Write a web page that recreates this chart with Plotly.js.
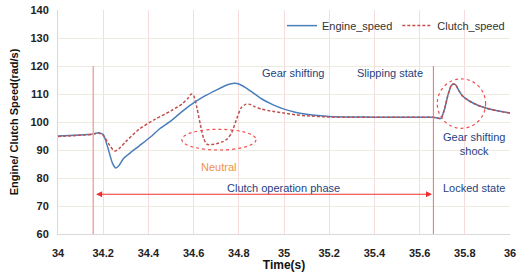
<!DOCTYPE html>
<html><head><meta charset="utf-8">
<script src="https://cdn.plot.ly/plotly-3.0.1.min.js"></script>
<style>html,body{margin:0;padding:0;background:#fff}#c{width:518px;height:272px}</style>
</head><body><div id="c"></div>
<script>
const engineTime = [34.00,34.05,34.10,34.15,34.18,34.20,34.22,34.24,34.255,34.27,34.29,34.32,34.36,34.415,34.45,34.50,34.55,34.60,34.65,34.70,34.75,34.78,34.80,34.83,34.86,34.90,34.95,35.00,35.05,35.10,35.15,35.20,35.30,35.40,35.50,35.60,35.66,35.68,35.695,35.71,35.725,35.74,35.75,35.76,35.775,35.79,35.82,35.86,35.90,35.95,36.00];
const engineSpeed = [95.0,95.2,95.4,95.6,96.2,95.5,91.0,85.5,83.6,84.5,87.0,89.0,91.5,95.0,97.6,100.4,103.8,106.8,109.3,111.4,113.3,113.8,113.6,112.3,110.6,108.3,106.2,104.6,103.5,102.8,102.3,102.0,101.8,101.7,101.7,101.7,101.7,101.4,101.3,104.5,109.5,113.0,113.6,113.2,111.0,109.3,107.5,105.9,104.8,103.9,103.2];
const clutchTime = [34.00,34.10,34.15,34.18,34.20,34.23,34.25,34.27,34.30,34.36,34.43,34.50,34.55,34.575,34.59,34.60,34.615,34.63,34.645,34.66,34.70,34.73,34.75,34.77,34.79,34.81,34.83,34.85,34.87,34.90,34.95,35.00,35.05,35.10,35.20,35.30,35.40,35.50,35.60,35.66,35.68,35.695,35.71,35.725,35.74,35.75,35.76,35.775,35.79,35.82,35.86,35.90,35.95,36.00];
const clutchSpeed = [94.8,95.3,95.6,96.0,95.2,91.5,89.6,90.5,93.0,97.5,101.0,104.0,106.5,108.5,110.0,109.5,105.0,99.0,94.0,92.0,92.2,93.0,94.0,96.5,101.0,105.0,106.3,106.3,105.5,104.6,103.8,103.2,102.6,102.2,101.8,101.7,101.7,101.7,101.7,101.7,101.4,101.3,104.5,109.5,113.0,113.6,113.2,111.0,109.3,107.5,105.9,104.8,103.9,103.2];
const xTicks = [34,34.2,34.4,34.6,34.8,35,35.2,35.4,35.6,35.8,36];
const xTickText = ['34','34.2','34.4','34.6','34.8','35','35.2','35.4','35.6','35.8','36'];
const yTicks = [60,70,80,90,100,110,120,130,140];
const seriesNames = ['Engine_speed','Clutch_speed'];

const blue = '#4A7EBB', red = '#C0504D', annBlue = '#1F3F7F';
const traces = [
  {x: engineTime, y: engineSpeed, name: seriesNames[0], type:'scatter', mode:'lines',
   line:{color:blue, width:1.5, shape:'spline', smoothing:0.6}},
  {x: clutchTime, y: clutchSpeed, name: seriesNames[1], type:'scatter', mode:'lines',
   line:{color:red, width:1.5, dash:'3px,2px', shape:'spline', smoothing:0.6}}
];
const font = 'Liberation Sans, Arial, sans-serif';
const layout = {
  width:518, height:272,
  margin:{l:58, r:8, t:10, b:38},
  paper_bgcolor:'#fff', plot_bgcolor:'#fff',
  font:{family:font, size:11, color:'#222'},
  showlegend:true,
  legend:{orientation:'h', x:1, xanchor:'right', y:0.995, yanchor:'top',
    bgcolor:'rgba(0,0,0,0)', font:{size:11, color:'#333'}, itemwidth:30, tracegroupgap:0},
  xaxis:{range:[34,36], tickvals:xTicks, ticktext:xTickText, showgrid:true, gridcolor:'#F6DCDC', gridwidth:1,
    zeroline:false, showline:true, linecolor:'#D9D9D9', ticks:'', ticklabelstandoff:9,
    tickfont:{family:font, size:11, color:'#222', weight:'bold'},
    title:{text:'<b>Time(s)</b>', font:{family:font, size:12, color:'#111'}, standoff:0}},
  yaxis:{range:[60,140], tickvals:yTicks, showgrid:true, gridcolor:'#EFEADF', gridwidth:1,
    zeroline:false, showline:true, linecolor:'#D9D9D9', ticks:'', ticklabelstandoff:6,
    tickfont:{family:font, size:11, color:'#222', weight:'bold'},
    title:{text:'<b>Engine/ Clutch Speed(rad/s)</b>', font:{family:font, size:11, color:'#111'}, standoff:9}},
  shapes:[
    {type:'line', xref:'x', yref:'y', x0:34.156, x1:34.156, y0:60, y1:120, line:{color:'#F4A6A6', width:1.5}},
    {type:'line', xref:'x', yref:'y', x0:35.661, x1:35.661, y0:60, y1:120, line:{color:'#E87070', width:1}},
    {type:'circle', xref:'x', yref:'y', x0:34.548, x1:34.876, y0:90, y1:97.4, line:{color:'#F05050', width:1.2, dash:'dot'}},
    {type:'circle', xref:'x', yref:'y', x0:35.678, x1:35.892, y0:97.75, y1:115.4, line:{color:'#F05050', width:1.2, dash:'dot'}}
  ],
  annotations:[
    {xref:'x', yref:'y', x:35.655, y:74.2, ax:34.162, ay:74.2, axref:'x', ayref:'y', text:'', showarrow:true,
     arrowside:'end+start', arrowhead:2, arrowsize:1, arrowwidth:1.2, arrowcolor:'#F03030'},
    {xref:'x', yref:'y', x:34.996, y:76.6, text:'Clutch operation phase', showarrow:false, font:{size:11, color:annBlue}},
    {xref:'x', yref:'y', x:35.84, y:76.6, text:'Locked state', showarrow:false, font:{size:11, color:annBlue}},
    {xref:'x', yref:'y', x:34.708, y:83.9, text:'Neutral', showarrow:false, font:{size:11, color:'#F0924A'}},
    {xref:'x', yref:'y', x:35.038, y:117.6, text:'Gear shifting', showarrow:false, font:{size:11, color:annBlue}},
    {xref:'x', yref:'y', x:35.469, y:117.6, text:'Slipping state', showarrow:false, font:{size:11, color:annBlue}},
    {xref:'x', yref:'y', x:35.84, y:92.1, text:'Gear shifting<br>shock', showarrow:false, font:{size:11, color:annBlue}}
  ]
};
Plotly.newPlot('c', traces, layout, {staticPlot:true, displayModeBar:false});
</script></body></html>
